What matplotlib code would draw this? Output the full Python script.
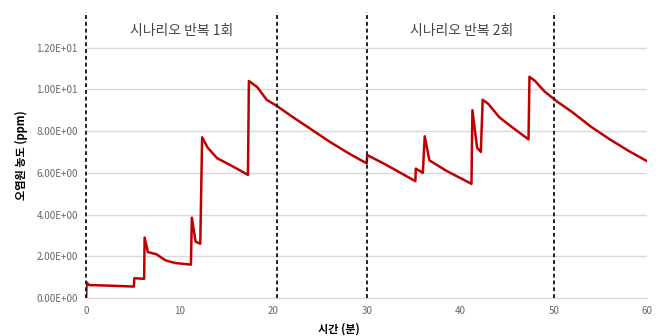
import matplotlib
matplotlib.use("Agg")
import matplotlib.pyplot as plt
from matplotlib.ticker import FuncFormatter

plt.rcParams['font.family'] = ['Noto Sans CJK KR', 'DejaVu Sans']

# 시간 (분)
time = [0.0, 0.05, 0.3, 2.0, 5.1, 5.15, 6.2, 6.25, 6.6, 7.5, 8.5, 9.5, 11.2,
        11.3, 11.7, 12.2, 12.4, 13.0, 14.0, 15.5, 16.5, 17.3, 17.4, 18.3, 19.3,
        20.4, 22.0, 24.0, 26.0, 28.0, 30.0, 30.05, 32.0, 35.2, 35.25, 36.0,
        36.2, 36.7, 38.5, 41.2, 41.3, 41.8, 42.2, 42.4, 43.0, 44.2, 45.5, 47.3,
        47.4, 48.0, 49.0, 50.4, 52.0, 54.0, 56.0, 58.0, 60.0]
# 오염원 농도 (ppm)
conc = [0.0, 0.75, 0.62, 0.6, 0.55, 0.95, 0.92, 2.9, 2.2, 2.1, 1.8, 1.68, 1.6,
        3.85, 2.7, 2.6, 7.7, 7.2, 6.7, 6.35, 6.1, 5.9, 10.4, 10.1, 9.5,
        9.2, 8.7, 8.1, 7.5, 6.95, 6.45, 6.85, 6.4, 5.6, 6.2, 6.0,
        7.75, 6.6, 6.1, 5.47, 9.0, 7.2, 7.0, 9.5, 9.3, 8.65, 8.2, 7.6,
        10.6, 10.4, 9.9, 9.4, 8.9, 8.2, 7.6, 7.05, 6.55]

scenario_bounds = [0, 20.4, 30, 50]
scenario_labels = ["시나리오 반복 1회", "시나리오 반복 2회"]
label_x = [10.2, 40.2]

fig = plt.figure(figsize=(6.68, 3.36), dpi=100)
ax = fig.add_axes([0.129, 0.113, 0.840, 0.851])

for yv in range(0, 13, 2):
    ax.axhline(yv, color="#d9d9d9", lw=1.0, zorder=0)

ax.plot(time, conc, color="#c00000", lw=1.8, zorder=3)

# 시나리오 구간 경계선
for xv in scenario_bounds:
    ax.axvline(xv, color="#222222", lw=1.4, ls=(0, (2, 1.5)), zorder=4, clip_on=False)

for x, s in zip(label_x, scenario_labels):
    ax.text(x, 12.8, s, ha="center", va="center", fontsize=10, color="#444444")

ax.set_xlim(0, 60)
ax.set_ylim(0, 13.7)
ax.set_xticks([0, 10, 20, 30, 40, 50, 60])
ax.set_yticks(range(0, 13, 2))
ax.yaxis.set_major_formatter(FuncFormatter(lambda v, p: "%.2E" % v))
ax.tick_params(length=0, labelsize=7, colors="#666666", pad=6)

for sp in ["top", "right", "left"]:
    ax.spines[sp].set_visible(False)
ax.spines["bottom"].set_color("#d9d9d9")

ax.set_ylabel("오염원 농도 (ppm)", fontsize=8, fontweight="bold", labelpad=6)
ax.set_xlabel("시간 (분)", fontsize=8, fontweight="bold", labelpad=2)
ax.xaxis.set_label_coords(0.45, -0.085)

fig.savefig("out.png", dpi=100)
